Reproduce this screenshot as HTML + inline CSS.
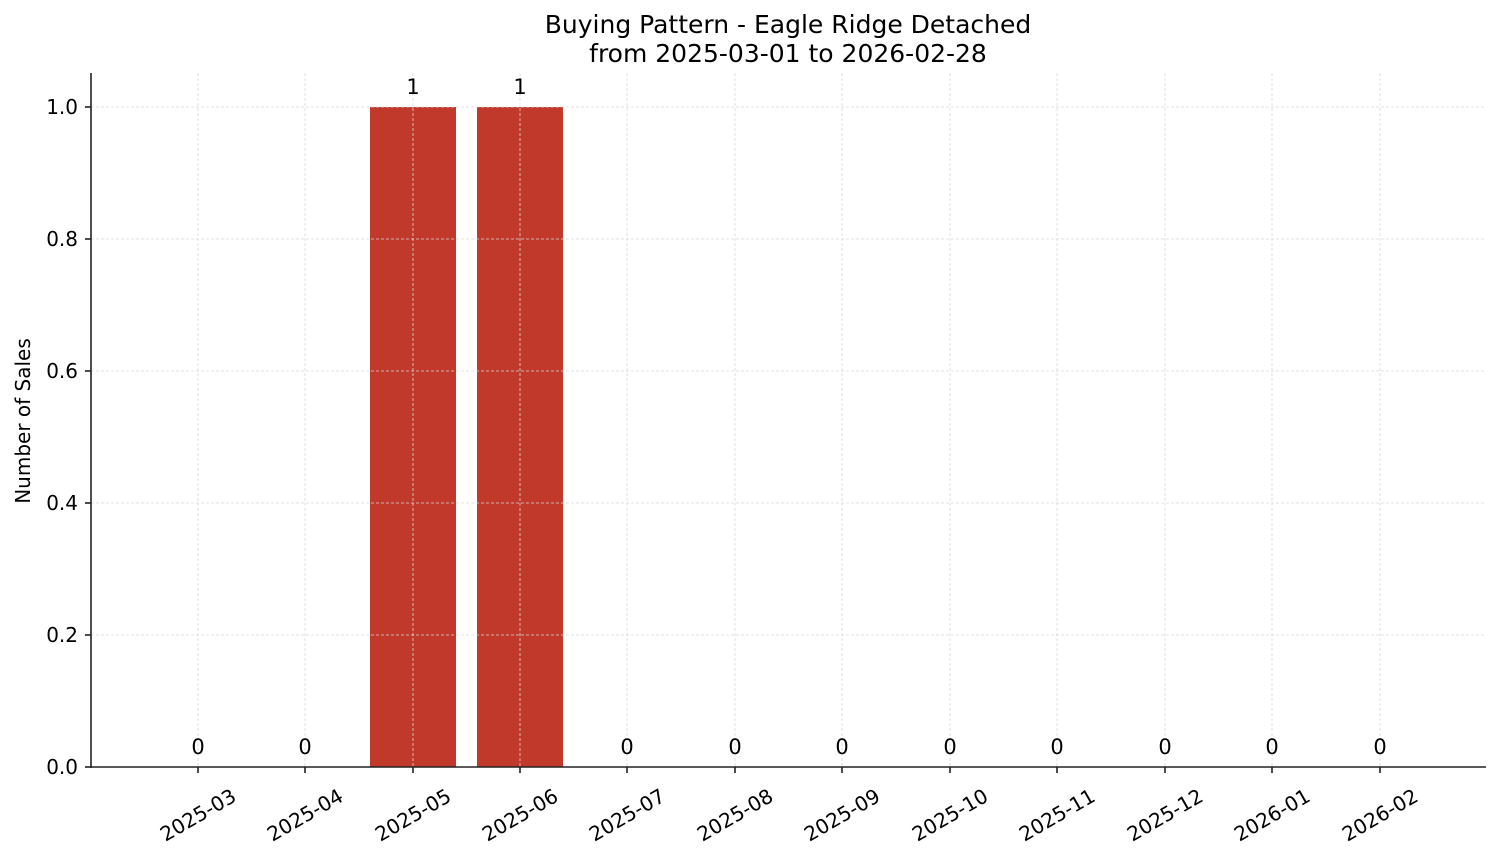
<!DOCTYPE html>
<html><head><meta charset="utf-8"><style>html,body{margin:0;padding:0;background:#fff}</style></head>
<body>
<svg width="1501" height="863" xmlns="http://www.w3.org/2000/svg" font-family="DejaVu Sans, Liberation Sans, sans-serif" fill="#000">
<rect width="1501" height="863" fill="#fff"/>
<text x="788" y="33" font-size="25" text-anchor="middle">Buying Pattern - Eagle Ridge Detached</text>
<text x="788" y="62" font-size="25" text-anchor="middle">from 2025-03-01 to 2026-02-28</text>
<rect x="370" y="107" width="86" height="660" fill="#c0392b"/>
<rect x="477" y="107" width="86" height="660" fill="#c0392b"/>
<g stroke="#d8d8d8" stroke-width="0.8" stroke-dasharray="3,2">
<line x1="91" x2="1486" y1="107" y2="107"/><line x1="91" x2="1486" y1="239" y2="239"/><line x1="91" x2="1486" y1="371" y2="371"/><line x1="91" x2="1486" y1="503" y2="503"/><line x1="91" x2="1486" y1="635" y2="635"/>
<line x1="198" x2="198" y1="73" y2="767"/><line x1="305" x2="305" y1="73" y2="767"/><line x1="413" x2="413" y1="73" y2="767"/><line x1="520" x2="520" y1="73" y2="767"/><line x1="627" x2="627" y1="73" y2="767"/><line x1="735" x2="735" y1="73" y2="767"/><line x1="842" x2="842" y1="73" y2="767"/><line x1="950" x2="950" y1="73" y2="767"/><line x1="1057" x2="1057" y1="73" y2="767"/><line x1="1165" x2="1165" y1="73" y2="767"/><line x1="1272" x2="1272" y1="73" y2="767"/><line x1="1380" x2="1380" y1="73" y2="767"/>
</g>
<g stroke="#222" stroke-width="1.6">
<line x1="91" y1="73" x2="91" y2="768"/><line x1="90" y1="767" x2="1486" y2="767"/>
<line x1="85" x2="91" y1="107" y2="107"/><line x1="85" x2="91" y1="239" y2="239"/><line x1="85" x2="91" y1="371" y2="371"/><line x1="85" x2="91" y1="503" y2="503"/><line x1="85" x2="91" y1="635" y2="635"/><line x1="85" x2="91" y1="767" y2="767"/>
<line x1="198" x2="198" y1="767" y2="773"/><line x1="305" x2="305" y1="767" y2="773"/><line x1="413" x2="413" y1="767" y2="773"/><line x1="520" x2="520" y1="767" y2="773"/><line x1="627" x2="627" y1="767" y2="773"/><line x1="735" x2="735" y1="767" y2="773"/><line x1="842" x2="842" y1="767" y2="773"/><line x1="950" x2="950" y1="767" y2="773"/><line x1="1057" x2="1057" y1="767" y2="773"/><line x1="1165" x2="1165" y1="767" y2="773"/><line x1="1272" x2="1272" y1="767" y2="773"/><line x1="1380" x2="1380" y1="767" y2="773"/>
</g>
<g font-size="20" text-anchor="end">
<text x="78" y="114">1.0</text><text x="78" y="246">0.8</text><text x="78" y="378">0.6</text><text x="78" y="510">0.4</text><text x="78" y="642">0.2</text><text x="78" y="774">0.0</text>
</g>
<text transform="translate(30,421) rotate(-90)" font-size="20" text-anchor="middle">Number of Sales</text>
<g font-size="21" text-anchor="middle">
<text x="198" y="754">0</text><text x="305" y="754">0</text><text x="413" y="94">1</text><text x="520" y="94">1</text><text x="627" y="754">0</text><text x="735" y="754">0</text><text x="842" y="754">0</text><text x="950" y="754">0</text><text x="1057" y="754">0</text><text x="1165" y="754">0</text><text x="1272" y="754">0</text><text x="1380" y="754">0</text>
</g>
<g font-size="20" text-anchor="middle">
<text transform="translate(198,815) rotate(-30)" dy="7">2025-03</text>
<text transform="translate(305,815) rotate(-30)" dy="7">2025-04</text>
<text transform="translate(413,815) rotate(-30)" dy="7">2025-05</text>
<text transform="translate(520,815) rotate(-30)" dy="7">2025-06</text>
<text transform="translate(627,815) rotate(-30)" dy="7">2025-07</text>
<text transform="translate(735,815) rotate(-30)" dy="7">2025-08</text>
<text transform="translate(842,815) rotate(-30)" dy="7">2025-09</text>
<text transform="translate(950,815) rotate(-30)" dy="7">2025-10</text>
<text transform="translate(1057,815) rotate(-30)" dy="7">2025-11</text>
<text transform="translate(1165,815) rotate(-30)" dy="7">2025-12</text>
<text transform="translate(1272,815) rotate(-30)" dy="7">2026-01</text>
<text transform="translate(1380,815) rotate(-30)" dy="7">2026-02</text>
</g>
</svg>
</body></html>
